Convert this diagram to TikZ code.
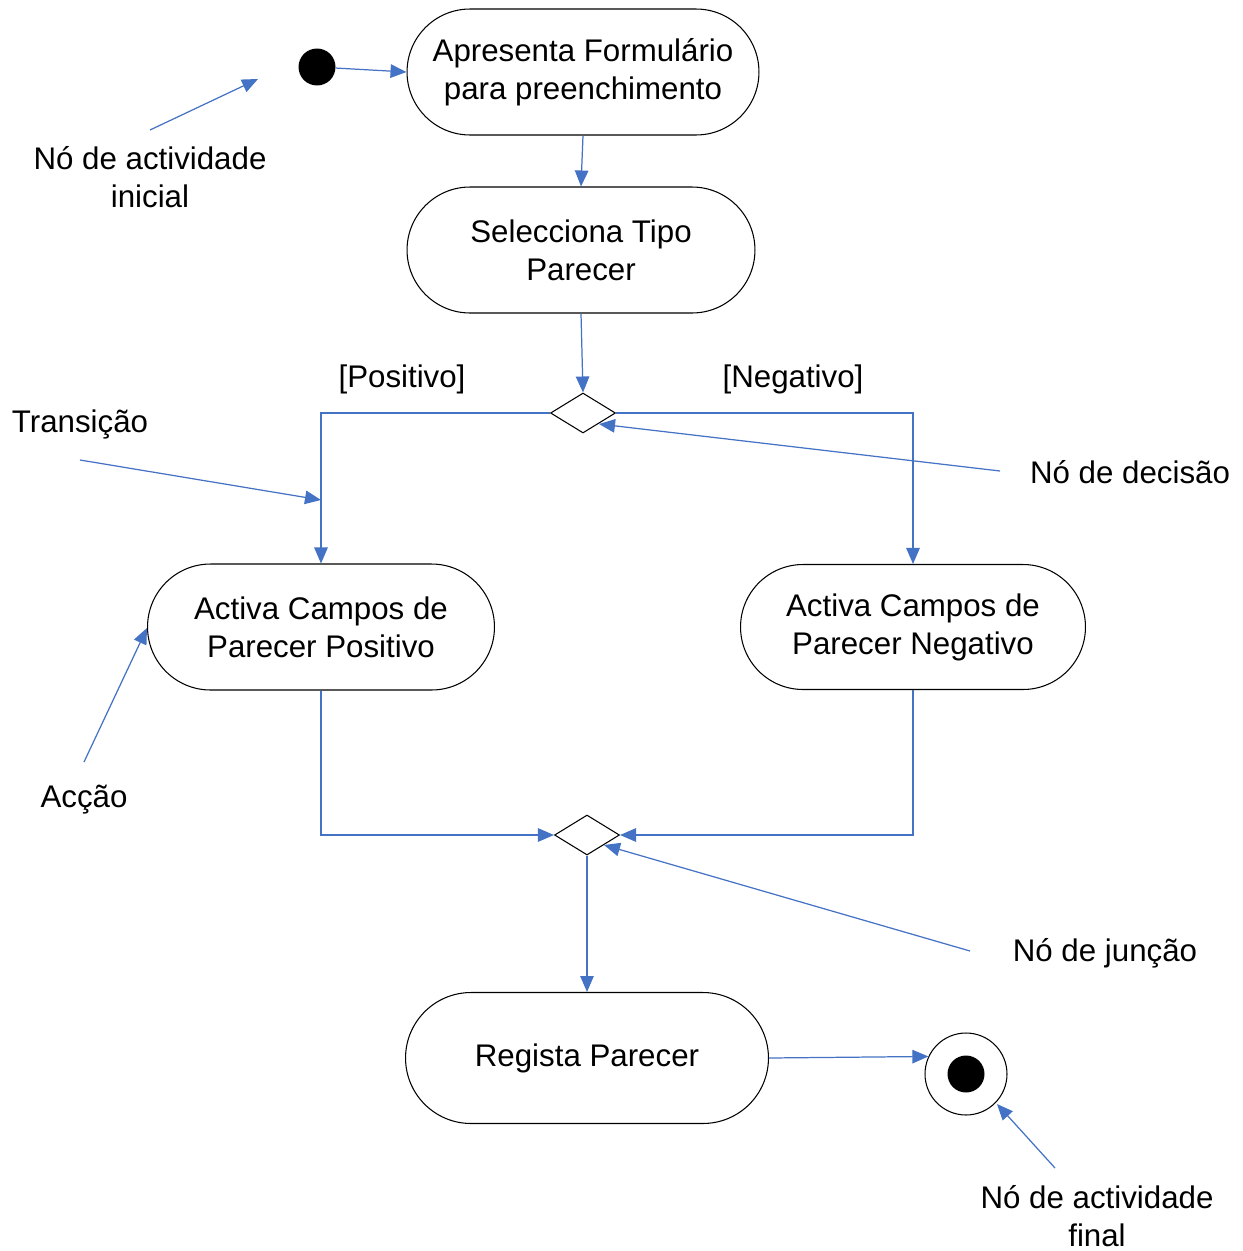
\documentclass[tikz,border=0pt]{standalone}
\usepackage{fontspec}
\setmainfont{Liberation Sans}
\usetikzlibrary{arrows.meta,shapes.misc,shapes.geometric}
\definecolor{flowblue}{RGB}{68,114,196}
\tikzset{
  base/.style={font=\fontsize{17.8pt}{21.6pt}\selectfont},
  action/.style={base, draw=black, line width=0.6pt, rounded rectangle, align=center, inner sep=0pt},
  decide/.style={draw=black, line width=0.6pt, diamond, inner sep=0pt, minimum width=1.3cm, minimum height=0.8cm},
  flow/.style={draw=flowblue, line width=0.7pt, -{Triangle[length=0.32cm,width=0.27cm]}},
  lbl/.style={base, align=center, inner sep=0pt}
}
\begin{document}
\begin{tikzpicture}[x=0.02cm,y=-0.02cm]
\useasboundingbox (0,0) rectangle (1242,1251);
% nodes
\node[circle, fill=black, minimum size=0.74cm, inner sep=0pt] (init) at (317,67) {};
\node[action, minimum width=7.04cm, minimum height=2.52cm] (a1) at (583,72) {Apresenta Formulário\\para preenchimento};
\node[action, minimum width=6.96cm, minimum height=2.52cm] (a2) at (581,250) {Selecciona Tipo\\Parecer};
\node[decide] (dec) at (583,413) {};
\node[action, minimum width=6.94cm, minimum height=2.52cm] (a3) at (321,627) {Activa Campos de\\Parecer Positivo};
\node[action, minimum width=6.9cm, minimum height=2.5cm] (a4) at (913,627) {Activa Campos de\\Parecer Negativo};
\node[decide] (mer) at (587,835) {};
\node[action, minimum width=7.26cm, minimum height=2.62cm] (a5) at (587,1058) {Regista Parecer};
\node[circle, draw=black, line width=0.6pt, minimum size=1.64cm, inner sep=0pt] (fin) at (966,1074) {};
\node[circle, fill=black, minimum size=0.74cm, inner sep=0pt] (finin) at (966,1074) {};
% guard labels
\node[lbl] (pos) at (402,379) {[Positivo]};
\node[lbl] (neg) at (793,379) {[Negativo]};
% flows
\draw[flow] (init) -- (a1.west);
\draw[flow] (a1.south) -- (a2.north);
\draw[flow] (a2.south) -- (dec.north);
\draw[flow] (dec.west) -| (a3.north);
\draw[flow] (dec.east) -| (a4.north);
\draw[flow] (a3.south) |- (mer.west);
\draw[flow] (a4.south) |- (mer.east);
\draw[flow] (mer.south) -- (a5.north);
\draw[flow] (a5.east) -- (fin.155.5);
% annotations
\node[lbl] (tInit) at (150,177) {Nó de actividade\\inicial};
\coordinate (cInitS) at (150,130);
\coordinate (cInitE) at (258,79);
\draw[flow] (cInitS) -- (cInitE);
\node[lbl] (tTrans) at (80,424) {Transição};
\coordinate (cTransS) at (80,460);
\coordinate (cTransE) at (321,500);
\draw[flow] (cTransS) -- (cTransE);
\node[lbl] (tDec) at (1130,472) {Nó de decisão};
\coordinate (cDecS) at (1000,471);
\coordinate (cDecE) at (599,424);
\draw[flow] (cDecS) -- (cDecE);
\node[lbl] (tAcc) at (84,800) {Acção};
\coordinate (cAccS) at (84,762);
\coordinate (cAccE) at (147,628);
\draw[flow] (cAccS) -- (cAccE);
\node[lbl] (tJun) at (1105,953) {Nó de junção};
\coordinate (cJunS) at (970,951);
\coordinate (cJunE) at (604,845);
\draw[flow] (cJunS) -- (cJunE);
\node[lbl] (tFin) at (1097,1216) {Nó de actividade\\final};
\coordinate (cFinS) at (1055,1168);
\coordinate (cFinE) at (997,1104);
\draw[flow] (cFinS) -- (cFinE);
\end{tikzpicture}
\end{document}
